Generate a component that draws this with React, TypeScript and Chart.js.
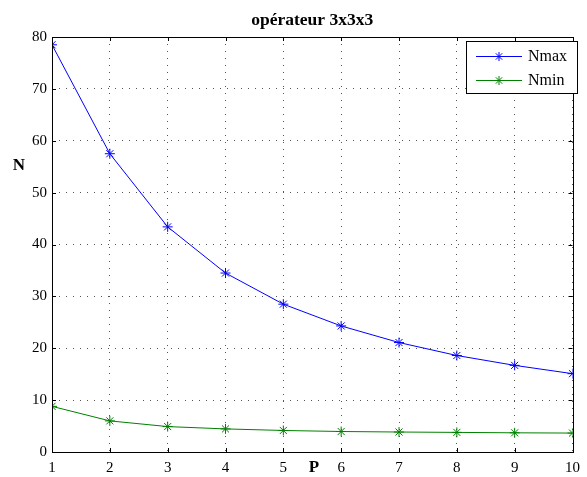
import React, { useEffect, useRef } from "react";
import { Chart, registerables } from "chart.js";

Chart.register(...registerables);

const categories = [1, 2, 3, 4, 5, 6, 7, 8, 9, 10];
const nmax = [78.5, 57.5, 43.4, 34.5, 28.5, 24.3, 21.1, 18.6, 16.7, 15.1];
const nmin = [8.8, 6.0, 4.9, 4.45, 4.15, 3.95, 3.85, 3.78, 3.7, 3.65];
const xTicks = [1, 2, 3, 4, 5, 6, 7, 8, 9, 10];
const yTicks = [0, 10, 20, 30, 40, 50, 60, 70, 80];
const chartTitle = "opérateur 3x3x3";
const xLabel = "P";
const yLabel = "N";
const seriesNames = ["Nmax", "Nmin"];
const seriesColors = ["#0000ff", "#008000"];

const FONT = "'Liberation Serif', 'Times New Roman', serif";

const decorPlugin = {
  id: "decor",
  afterDraw(chart: any) {
    const { ctx, chartArea } = chart;
    const { left, right, top, bottom } = chartArea;
    const xs = chart.scales.x;
    const ys = chart.scales.y;
    ctx.save();
    // frame
    ctx.strokeStyle = "#000";
    ctx.lineWidth = 1;
    ctx.setLineDash([]);
    ctx.strokeRect(Math.round(left) + 0.5, Math.round(top) + 0.5, Math.round(right - left), Math.round(bottom - top));
    // inward ticks
    const tl = 4;
    ctx.beginPath();
    xTicks.forEach((v) => {
      const x = Math.round(xs.getPixelForValue(v)) + 0.5;
      ctx.moveTo(x, bottom);
      ctx.lineTo(x, bottom - tl);
      ctx.moveTo(x, top);
      ctx.lineTo(x, top + tl);
    });
    yTicks.forEach((v) => {
      const y = Math.round(ys.getPixelForValue(v)) + 0.5;
      ctx.moveTo(left, y);
      ctx.lineTo(left + tl, y);
      ctx.moveTo(right, y);
      ctx.lineTo(right - tl, y);
    });
    ctx.stroke();

    // title
    ctx.fillStyle = "#000";
    ctx.font = `bold 17.5px ${FONT}`;
    ctx.textAlign = "center";
    ctx.textBaseline = "middle";
    ctx.fillText(chartTitle, (left + right) / 2, 20);
    // axis labels
    ctx.font = `bold 17px ${FONT}`;
    ctx.fillText(yLabel, 19, 166);
    ctx.fillText(xLabel, 314, 468);

    // legend
    const bx = 466, by = 41, bw = 111, bh = 52;
    ctx.fillStyle = "#fff";
    ctx.fillRect(bx, by, bw, bh);
    ctx.strokeStyle = "#000";
    ctx.strokeRect(bx + 0.5, by + 0.5, bw, bh);
    const rows = [56, 80];
    seriesNames.forEach((name, i) => {
      const y = rows[i];
      ctx.strokeStyle = seriesColors[i];
      ctx.lineWidth = 1;
      ctx.beginPath();
      ctx.moveTo(476, y + 0.5);
      ctx.lineTo(522, y + 0.5);
      ctx.stroke();
      // star marker
      const cx = 499, r = 4.5;
      ctx.beginPath();
      for (let k = 0; k < 4; k++) {
        const a = (Math.PI / 4) * k;
        ctx.moveTo(cx + r * Math.cos(a), y + 0.5 + r * Math.sin(a));
        ctx.lineTo(cx - r * Math.cos(a), y + 0.5 - r * Math.sin(a));
      }
      ctx.stroke();
      ctx.fillStyle = "#000";
      ctx.font = `16px ${FONT}`;
      ctx.textAlign = "left";
      ctx.textBaseline = "middle";
      ctx.fillText(name, 528, y + 1);
    });
    ctx.restore();
  },
};

export default function App() {
  const ref = useRef<HTMLCanvasElement | null>(null);
  useEffect(() => {
    if (!ref.current) return;
    const chart = new Chart(ref.current, {
      type: "line",
      data: {
        labels: categories,
        datasets: [
          {
            label: seriesNames[0],
            data: categories.map((c, i) => ({ x: c, y: nmax[i] })),
            borderColor: seriesColors[0],
            backgroundColor: seriesColors[0],
            borderWidth: 1,
            pointStyle: "star",
            pointRadius: 5,
            pointBorderWidth: 1,
            tension: 0,
          },
          {
            label: seriesNames[1],
            data: categories.map((c, i) => ({ x: c, y: nmin[i] })),
            borderColor: seriesColors[1],
            backgroundColor: seriesColors[1],
            borderWidth: 1,
            pointStyle: "star",
            pointRadius: 5,
            pointBorderWidth: 1,
            tension: 0,
          },
        ],
      },
      options: {
        responsive: false,
        animation: false,
        layout: { padding: { left: 0, top: 37, right: 8, bottom: 0 } },
        plugins: {
          legend: { display: false },
          title: { display: false },
          tooltip: { enabled: false },
        },
        scales: {
          x: {
            type: "linear",
            min: 1,
            max: 10,
            afterFit: (s: any) => {
              s.height = 25;
            },
            afterBuildTicks: (s: any) => {
              s.ticks = xTicks.map((v) => ({ value: v }));
            },
            ticks: {
              color: "#000",
              font: { family: FONT, size: 15 },
              padding: 7,
              maxRotation: 0,
              autoSkip: false,
            },
            grid: {
              color: "#555",
              lineWidth: 1,
              drawTicks: false,
            },
            border: { display: false, dash: [1, 6] },
          },
          y: {
            type: "linear",
            min: 0,
            max: 80,
            afterFit: (s: any) => {
              s.width = 52;
            },
            afterBuildTicks: (s: any) => {
              s.ticks = yTicks.map((v) => ({ value: v }));
            },
            ticks: {
              color: "#000",
              font: { family: FONT, size: 15 },
              padding: 5,
              autoSkip: false,
            },
            grid: {
              color: "#555",
              lineWidth: 1,
              drawTicks: false,
            },
            border: { display: false, dash: [1, 6] },
          },
        },
      },
      plugins: [decorPlugin],
    });
    return () => chart.destroy();
  }, []);
  return (
    <div style={{ position: "fixed", left: 0, top: 0, width: 587, height: 477, background: "#fff" }}>
      <canvas ref={ref} width={587} height={477} style={{ display: "block" }} />
    </div>
  );
}
